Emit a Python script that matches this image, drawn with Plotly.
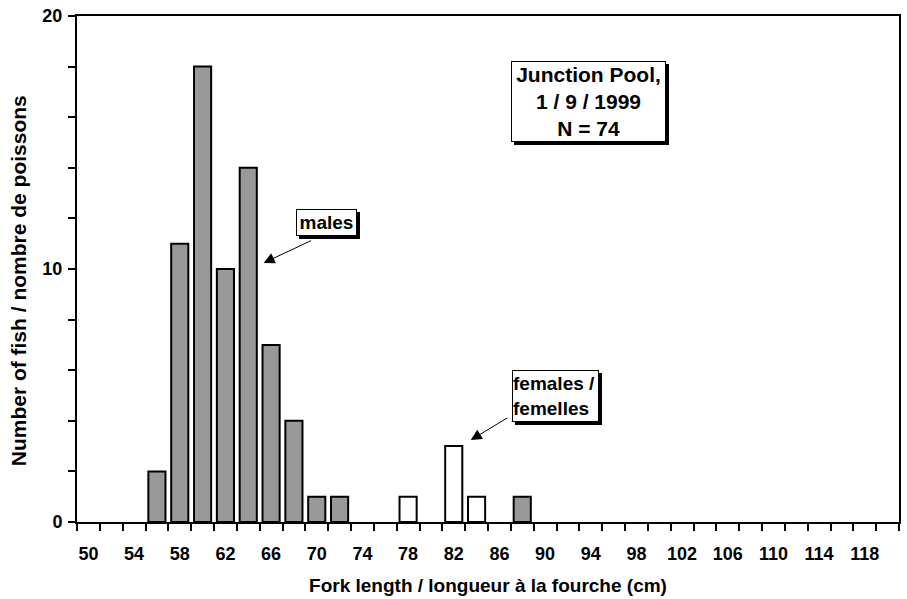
import plotly.graph_objects as go

# Data
male_lengths = [56, 58, 60, 62, 64, 66, 68, 70, 72, 88]
male_counts = [2, 11, 18, 10, 14, 7, 4, 1, 1, 1]
female_lengths = [78, 82, 84]
female_counts = [1, 3, 1]
x_tick_labels = [50, 54, 58, 62, 66, 70, 74, 78, 82, 86, 90, 94, 98, 102, 106, 110, 114, 118]
y_tick_labels = [0, 10, 20]

FONT = "Liberation Sans, Arial, sans-serif"

fig = go.Figure()
fig.add_trace(go.Bar(
    x=male_lengths, y=male_counts, width=1.5,
    marker=dict(color="#999999", line=dict(color="black", width=2)),
    name="males", showlegend=False,
))
fig.add_trace(go.Bar(
    x=female_lengths, y=female_counts, width=1.5,
    marker=dict(color="white", line=dict(color="black", width=2)),
    name="females", showlegend=False,
))

fig.update_layout(
    width=907, height=599,
    margin=dict(l=77, r=6, t=16, b=77),
    paper_bgcolor="white", plot_bgcolor="white",
    barmode="overlay",
    font=dict(family=FONT, size=16, color="black"),
    xaxis=dict(
        range=[49, 121],
        tickmode="array", tickvals=x_tick_labels, ticktext=[str(v) for v in x_tick_labels],
        ticks="outside", ticklen=0, tickcolor="rgba(0,0,0,0)",
        minor=dict(ticks="outside", ticklen=7, tickwidth=2, tickcolor="black", tick0=49, dtick=2),
        showline=True, linecolor="black", linewidth=2, mirror=True,
        showgrid=False, zeroline=False,
        tickfont=dict(family=FONT, size=18, color="black", weight="bold"),
        ticklabelstandoff=14,
        title=dict(text="<b>Fork length / longueur à la fourche (cm)</b>",
                   font=dict(family=FONT, size=19, color="black"), standoff=16),
    ),
    yaxis=dict(
        range=[0, 20],
        tickmode="array", tickvals=y_tick_labels, ticktext=[str(v) for v in y_tick_labels],
        ticks="outside", ticklen=7, tickwidth=2, tickcolor="black",
        minor=dict(ticks="outside", ticklen=7, tickwidth=2, tickcolor="black", tick0=0, dtick=2),
        showline=True, linecolor="black", linewidth=2, mirror=True,
        showgrid=False, zeroline=False,
        tickfont=dict(family=FONT, size=18, color="black", weight="bold"),
        ticklabelstandoff=2,
    ),
)

# y-axis title, placed as in the reference (slightly below the plot centre)
fig.add_annotation(xref="paper", yref="paper", x=-0.0716, y=0.476,
                   xanchor="center", yanchor="middle", textangle=-90, showarrow=False,
                   text="<b>Number of fish / nombre de poissons</b>",
                   font=dict(family=FONT, size=21, color="black"))

def boxed(text, x, y, w, h, size, align="center"):
    # shadow
    fig.add_annotation(xref="paper", yref="paper", x=x, y=y, text=" ",
                       xanchor="center", yanchor="middle",
                       showarrow=False, width=w, height=h, bgcolor="black",
                       borderpad=0, borderwidth=1, bordercolor="black",
                       xshift=3, yshift=-3)
    fig.add_annotation(xref="paper", yref="paper", x=x, y=y, text=text,
                       xanchor="center", yanchor="middle",
                       showarrow=False, width=w, height=h, bgcolor="white",
                       borderpad=0, borderwidth=1, bordercolor="black", align=align,
                       font=dict(family=FONT, size=size, color="black", weight="bold"))

boxed("Junction Pool,<br>1 / 9 / 1999<br>N = 74", 0.622, 0.831, 153, 79, 21)
boxed("males", 0.304, 0.592, 59, 25, 19)
boxed("females /<br>femelles", 0.582, 0.249, 85, 50, 19, align="left")

for hx, hy, ax, ay in [(0.227, 0.512, 49, -23), (0.479, 0.162, 38, -23)]:
    fig.add_annotation(xref="paper", yref="paper", x=hx, y=hy, text="",
                       showarrow=True, arrowhead=2, arrowsize=2.2, arrowwidth=1,
                       arrowcolor="black", ax=ax, ay=ay, standoff=0)

fig.write_html("out.html")
